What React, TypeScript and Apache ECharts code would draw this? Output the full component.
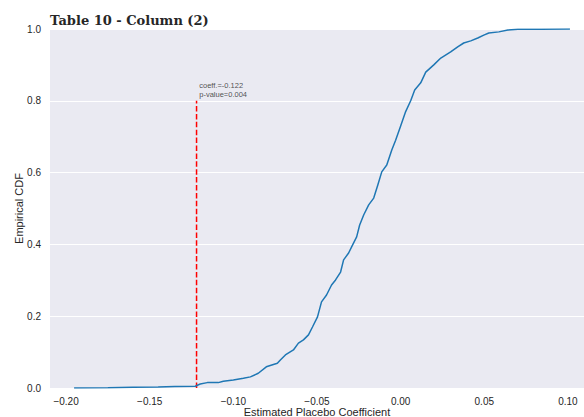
import React, { useEffect, useRef } from "react";
import * as echarts from "echarts";

const titleText = "Table 10 - Column (2)";
const xTicks = [-0.2, -0.15, -0.1, -0.05, 0, 0.05, 0.1];
const yTicks = [0, 0.2, 0.4, 0.6, 0.8, 1.0];
const cdfX = [
  -0.1952, -0.175, -0.16, -0.145, -0.135, -0.1228, -0.1198, -0.1156, -0.109, -0.106,
  -0.1, -0.094, -0.0898, -0.0851, -0.0803, -0.0737, -0.0719, -0.0689, -0.0641, -0.0611,
  -0.0581, -0.0551, -0.0527, -0.0497, -0.0473, -0.0443, -0.0413, -0.0389, -0.0359, -0.0341,
  -0.0311, -0.0293, -0.0263, -0.0245, -0.0221, -0.0191, -0.0161, -0.0137, -0.0113, -0.0083,
  -0.0053, -0.003, 0.0, 0.003, 0.006, 0.0084, 0.012, 0.015, 0.0198, 0.024,
  0.0299, 0.0341, 0.0377, 0.0419, 0.0461, 0.0497, 0.0527, 0.0587, 0.0641, 0.0701,
  0.084, 0.1012,
];
const cdfY = [
  0.0, 0.001, 0.002, 0.003, 0.004, 0.005, 0.011, 0.015, 0.015, 0.019,
  0.022, 0.027, 0.031, 0.041, 0.059, 0.069, 0.078, 0.092, 0.106, 0.125,
  0.134, 0.148, 0.17, 0.198, 0.24, 0.259, 0.287, 0.301, 0.323, 0.357,
  0.376, 0.393, 0.421, 0.454, 0.482, 0.51, 0.529, 0.565, 0.602, 0.621,
  0.663, 0.69, 0.73, 0.77, 0.8, 0.83, 0.85, 0.88, 0.9, 0.919,
  0.936, 0.95, 0.961, 0.967, 0.975, 0.983, 0.989, 0.992, 0.997, 0.999,
  0.999, 1.0,
];
const coeff = -0.122;
const pValue = 0.004;
const refTop = 0.8;
const annotX = -0.1204;
const annotY = 0.806;

const fmtX = (v: number) => {
  const s = Math.abs(v).toFixed(2);
  return v < -1e-9 ? "\u2212" + s : s;
};

export default function App() {
  const ref = useRef<HTMLDivElement>(null);
  useEffect(() => {
    if (!ref.current) return;
    const chart = echarts.init(ref.current, undefined, { renderer: "svg" });
    const font = "'Liberation Sans', Arial, sans-serif";
    chart.setOption({
      animation: false,
      backgroundColor: "#ffffff",
      title: {
        text: titleText,
        left: 45,
        top: 9,
        textStyle: {
          fontFamily: "'DejaVu Serif', serif",
          fontWeight: "bold",
          fontSize: 13,
          color: "#262626",
        },
      },
      grid: {
        left: 50,
        right: 0,
        top: 29,
        bottom: 29,
        show: true,
        backgroundColor: "#EAEAF2",
        borderWidth: 0,
        containLabel: false,
        outerBoundsMode: "none",
      },
      xAxis: {
        type: "value",
        min: -0.2096,
        max: 0.1096,
        name: "Estimated Placebo Coefficient",
        nameLocation: "middle",
        nameGap: 18,
        nameMoveOverlap: false,
        nameTextStyle: { fontFamily: font, fontSize: 11, color: "#262626" },
        axisLine: { show: false },
        axisTick: { show: false, customValues: xTicks },
        splitLine: { show: false },
        axisLabel: {
          customValues: xTicks,
          formatter: fmtX,
          fontFamily: font,
          fontSize: 10,
          color: "#262626",
          margin: 8,
        },
      },
      yAxis: {
        type: "value",
        min: 0,
        max: 1,
        interval: 0.2,
        name: "Empirical CDF",
        nameLocation: "middle",
        nameGap: 26,
        nameMoveOverlap: false,
        nameTextStyle: { fontFamily: font, fontSize: 11, color: "#262626" },
        axisLine: { show: false },
        axisTick: { show: false },
        splitLine: { show: true, lineStyle: { color: "#ffffff", width: 1 } },
        axisLabel: {
          customValues: yTicks,
          formatter: (v: number) => v.toFixed(1),
          fontFamily: font,
          fontSize: 10,
          color: "#262626",
          margin: 9,
        },
      },
      series: [
        {
          type: "line",
          data: cdfX.map((x, i) => [x, cdfY[i]]),
          showSymbol: false,
          lineStyle: { color: "#1f77b4", width: 1.5 },
          z: 3,
        },
        {
          type: "line",
          data: [
            [coeff, 0],
            [coeff, refTop],
          ],
          showSymbol: false,
          lineStyle: { color: "#ff0000", width: 1.5, type: [5.5, 2.4] },
          z: 2,
        },
        {
          type: "scatter",
          data: [[annotX, annotY]],
          symbolSize: 0,
          label: {
            show: true,
            position: [0, 0],
            align: "left",
            verticalAlign: "bottom",
            formatter: `coeff.=${coeff.toFixed(3)}\np-value=${pValue.toFixed(3)}`,
            fontFamily: font,
            fontSize: 7.5,
            lineHeight: 9,
            color: "#262626",
          },
          z: 4,
        },
      ],
    });
    return () => chart.dispose();
  }, []);
  return (
    <div
      ref={ref}
      style={{ position: "fixed", left: 0, top: 0, width: 584, height: 417 }}
    />
  );
}
